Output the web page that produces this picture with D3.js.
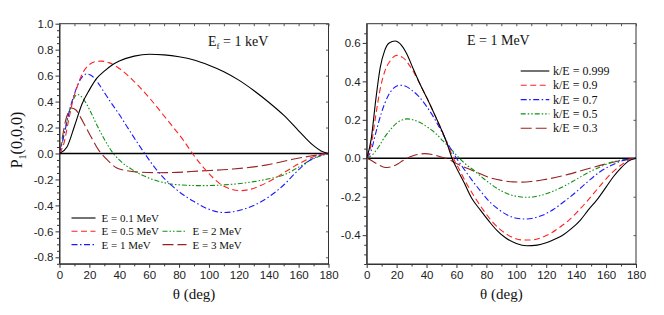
<!DOCTYPE html>
<html><head><meta charset="utf-8">
<script src="https://cdn.jsdelivr.net/npm/d3@7"></script>
<style>body{margin:0;background:#fff}svg{display:block}</style>
</head><body>
<svg id="c" width="664" height="315"></svg>
<script>
// ---------- data ----------
const xTicks = [0,20,40,60,80,100,120,140,160,180];
const yTicksLeft = [-0.8,-0.6,-0.4,-0.2,0.0,0.2,0.4,0.6,0.8,1.0];
const yTicksRight = [-0.4,-0.2,0.0,0.2,0.4,0.6];

const leftLabels = ["E = 0.1 MeV","E = 0.5 MeV","E = 1 MeV","E = 2 MeV","E = 3 MeV"];
const rightLabels = ["k/E = 0.999","k/E = 0.9","k/E = 0.7","k/E = 0.5","k/E = 0.3"];

// left panel [theta, P1]
const e01 = [[0,0],[5,0.05],[10,0.21],[15,0.38],[20,0.49],[25,0.58],[30,0.635],[35,0.68],[40,0.712],[50,0.75],[60,0.765],[70,0.76],[80,0.745],[90,0.72],[100,0.68],[110,0.63],[120,0.565],[130,0.485],[140,0.395],[150,0.295],[160,0.175],[165,0.115],[170,0.06],[175,0.02],[180,0]];
const e05 = [[0,0],[3,0.08],[6,0.25],[9,0.41],[12,0.52],[16,0.63],[20,0.685],[24,0.708],[28,0.712],[33,0.70],[40,0.655],[49,0.566],[60,0.43],[72,0.26],[83,0.10],[89,0.0],[95,-0.09],[100,-0.155],[107,-0.23],[114,-0.272],[121,-0.286],[128,-0.275],[135,-0.245],[142,-0.205],[152,-0.135],[160,-0.08],[170,-0.025],[175,-0.008],[180,0]];
const e1 = [[0,0],[3,0.14],[6,0.3],[10,0.46],[14,0.57],[18,0.612],[22,0.595],[26,0.54],[30,0.47],[34,0.4],[40,0.3],[45,0.21],[50,0.12],[57,0],[65,-0.127],[76,-0.256],[83,-0.32],[90,-0.37],[100,-0.43],[110,-0.455],[120,-0.44],[130,-0.40],[140,-0.335],[150,-0.243],[160,-0.125],[166,-0.065],[172,-0.025],[180,0]];
const e2 = [[0,0],[2,0.1],[4,0.2],[8,0.38],[12,0.455],[16,0.42],[20,0.34],[25,0.22],[30,0.11],[36,0],[40,-0.05],[49,-0.127],[60,-0.19],[72,-0.23],[85,-0.245],[95,-0.248],[105,-0.245],[116,-0.237],[130,-0.217],[140,-0.195],[150,-0.166],[160,-0.105],[170,-0.04],[180,0]];
const e3 = [[0,0],[2,0.13],[4,0.25],[6,0.32],[8,0.35],[11,0.335],[14,0.28],[18,0.195],[22,0.11],[26,0.03],[28,0],[32,-0.05],[38,-0.11],[45,-0.133],[55,-0.145],[65,-0.148],[75,-0.147],[94,-0.135],[116,-0.12],[138,-0.09],[156,-0.045],[168,-0.02],[180,0]];

// right panel [theta, P1]
const k999 = [[0,0],[3,0.1],[6,0.3],[9,0.47],[12,0.56],[15,0.6],[19,0.61],[23,0.59],[27,0.54],[31,0.467],[36,0.38],[42,0.285],[47,0.2],[51,0.13],[54,0.07],[57,0],[60,-0.05],[65,-0.125],[70,-0.205],[76,-0.27],[82,-0.33],[87,-0.375],[93,-0.415],[100,-0.443],[107,-0.455],[114,-0.452],[120,-0.44],[126,-0.42],[131,-0.40],[137,-0.365],[143,-0.32],[148,-0.27],[154,-0.215],[160,-0.15],[165,-0.095],[170,-0.05],[175,-0.015],[180,0]];
const k9 = [[0,0],[3,0.07],[6,0.22],[9,0.36],[12,0.45],[16,0.51],[20,0.535],[24,0.525],[28,0.49],[32,0.44],[36,0.38],[42,0.285],[47,0.2],[51,0.13],[55,0.055],[58,0],[62,-0.06],[67,-0.135],[72,-0.2],[78,-0.27],[84,-0.33],[90,-0.375],[97,-0.41],[104,-0.425],[110,-0.425],[116,-0.415],[122,-0.395],[128,-0.365],[134,-0.33],[140,-0.285],[146,-0.235],[152,-0.18],[158,-0.125],[164,-0.075],[170,-0.035],[175,-0.01],[180,0]];
const k7 = [[0,0],[3,0.04],[6,0.13],[10,0.24],[14,0.32],[18,0.365],[22,0.38],[26,0.375],[30,0.355],[35,0.32],[40,0.27],[45,0.21],[50,0.14],[55,0.065],[60,0],[64,-0.045],[70,-0.11],[76,-0.17],[82,-0.225],[88,-0.265],[94,-0.295],[100,-0.312],[106,-0.316],[112,-0.31],[118,-0.295],[125,-0.265],[132,-0.225],[140,-0.175],[148,-0.12],[156,-0.07],[164,-0.035],[170,-0.015],[176,-0.003],[180,0]];
const k5 = [[0,0],[4,0.02],[8,0.06],[12,0.11],[16,0.15],[20,0.183],[24,0.2],[27,0.205],[31,0.2],[36,0.185],[41,0.16],[46,0.13],[51,0.09],[56,0.05],[62,0],[66,-0.03],[72,-0.065],[78,-0.105],[84,-0.14],[90,-0.17],[96,-0.19],[102,-0.2],[106,-0.203],[112,-0.2],[118,-0.19],[125,-0.17],[132,-0.145],[140,-0.11],[148,-0.075],[156,-0.045],[164,-0.02],[172,-0.007],[180,0]];
const k3 = [[0,0],[4,-0.015],[8,-0.035],[11,-0.045],[14,-0.048],[17,-0.043],[21,-0.028],[24,-0.013],[27,0],[31,0.013],[35,0.021],[39,0.024],[43,0.021],[47,0.013],[51,0.004],[55,-0.005],[58,-0.02],[62,-0.035],[68,-0.055],[75,-0.078],[82,-0.1],[90,-0.115],[98,-0.123],[104,-0.124],[110,-0.121],[118,-0.112],[126,-0.1],[134,-0.085],[142,-0.068],[150,-0.05],[158,-0.033],[166,-0.018],[174,-0.006],[180,0]];

// ---------- styles ----------
const styles = [
  {color:"#000000", dash:null},
  {color:"#ff2020", dash:"6,3.5"},
  {color:"#1a1aff", dash:"6,2.5,1.5,2.5"},
  {color:"#109010", dash:"5,2,1.5,2,1.5,2"},
  {color:"#992222", dash:"11,4"}
];

const svg = d3.select("#c");
const serif = "'Liberation Serif', 'DejaVu Serif', serif";
const sans = "'Liberation Sans', Arial, sans-serif";

function panel(opts){
  const x = d3.scaleLinear().domain([0,180]).range([opts.x0, opts.x1]);
  const y = d3.scaleLinear().domain(opts.ydom).range([opts.y1, opts.y0]);
  const g = svg.append("g");

  g.append("rect").attr("x",opts.x0).attr("y",opts.y0)
    .attr("width",opts.x1-opts.x0).attr("height",opts.y1-opts.y0)
    .attr("fill","none").attr("stroke","#333").attr("stroke-width",1);

  const xMinor = d3.range(10,180,20);
  const yMinor = d3.range(Math.ceil(opts.ydom[0]/0.05), Math.floor(opts.ydom[1]/0.05)+1)
      .map(i=>+(i*0.05).toFixed(2)).filter(v=>!opts.yticks.some(t=>Math.abs(t-v)<1e-6));

  const ax = d3.axisBottom(x).tickValues(xTicks).tickSize(4).tickSizeOuter(0).tickFormat(d=>String(d));
  const gx = g.append("g").attr("transform",`translate(0,${opts.y1})`).call(ax);
  gx.select(".domain").attr("stroke","#333");
  gx.selectAll("line").attr("stroke","#333");
  gx.selectAll("text").attr("font-family",sans).attr("font-size",11.5).attr("fill","#222").attr("dy","0.85em").attr("y",5);
  const axm = d3.axisBottom(x).tickValues(xMinor).tickSize(2.5).tickFormat("");
  const gxm = g.append("g").attr("transform",`translate(0,${opts.y1})`).call(axm);
  gxm.select(".domain").remove(); gxm.selectAll("line").attr("stroke","#333");

  const ay = d3.axisLeft(y).tickValues(opts.yticks).tickSize(4).tickSizeOuter(0).tickFormat(d=>d.toFixed(1));
  const gy = g.append("g").attr("transform",`translate(${opts.x0},0)`).call(ay);
  gy.select(".domain").attr("stroke","#333");
  gy.selectAll("line").attr("stroke","#333");
  gy.selectAll("text").attr("font-family",sans).attr("font-size",11.5).attr("fill","#222").attr("x",-6);
  const aym = d3.axisLeft(y).tickValues(yMinor).tickSize(2.5).tickFormat("");
  const gym = g.append("g").attr("transform",`translate(${opts.x0},0)`).call(aym);
  gym.select(".domain").remove(); gym.selectAll("line").attr("stroke","#333");

  const at = d3.axisBottom(x).tickValues(xTicks.concat(xMinor)).tickSize(2.5).tickFormat("");
  const gt = g.append("g").attr("transform",`translate(0,${opts.y0})`).call(at);
  gt.select(".domain").remove(); gt.selectAll("line").attr("stroke","#555");
  const ar = d3.axisLeft(y).tickValues(opts.yticks).tickSize(2.5).tickFormat("");
  const gr = g.append("g").attr("transform",`translate(${opts.x1},0)`).call(ar);
  gr.select(".domain").remove(); gr.selectAll("line").attr("stroke","#555");

  g.append("line").attr("x1",x(0)).attr("x2",x(180)).attr("y1",y(0)).attr("y2",y(0))
    .attr("stroke","#000").attr("stroke-width",1.3);

  const line = d3.line().x(d=>x(d[0])).y(d=>y(d[1])).curve(d3.curveMonotoneX);
  const clip = "clip"+opts.id;
  svg.append("clipPath").attr("id",clip).append("rect")
    .attr("x",opts.x0).attr("y",opts.y0).attr("width",opts.x1-opts.x0).attr("height",opts.y1-opts.y0);
  opts.series.slice().reverse().forEach((s,ri)=>{
    const i = opts.series.length-1-ri;
    g.append("path").datum(s).attr("d",line).attr("fill","none")
      .attr("clip-path",`url(#${clip})`)
      .attr("stroke",styles[i].color).attr("stroke-width",1.1)
      .attr("stroke-dasharray",styles[i].dash);
  });

  g.append("text").attr("x",(opts.x0+opts.x1)/2).attr("y",299).attr("text-anchor","middle")
    .attr("font-family",serif).attr("font-size",15).attr("fill","#111").text("θ (deg)");
  return {x,y,g};
}

const L = panel({id:"L", x0:59.5, x1:328.5, y0:23.7, y1:263.8, ydom:[-0.85,1.0], yticks:yTicksLeft,
  series:[e01,e05,e1,e2,e3]});
const R = panel({id:"R", x0:366.7, x1:636, y0:23.7, y1:264, ydom:[-0.55,0.7], yticks:yTicksRight,
  series:[k999,k9,k7,k5,k3]});

const t1 = L.g.append("text").attr("x",208).attr("y",46).attr("font-family",serif).attr("font-size",14).attr("fill","#111");
t1.append("tspan").text("E");
t1.append("tspan").attr("font-size",9).attr("dy",3).text("f");
t1.append("tspan").attr("dy",-3).text(" = 1 keV");

R.g.append("text").attr("x",467).attr("y",45).attr("font-family",serif).attr("font-size",14).attr("fill","#111").text("E = 1 MeV");

const yl = svg.append("text").attr("transform","translate(22,140) rotate(-90)")
  .attr("text-anchor","middle").attr("font-family",serif).attr("font-size",16).attr("fill","#111");
yl.append("tspan").text("P");
yl.append("tspan").attr("font-size",10).attr("dy",4).text("1");
yl.append("tspan").attr("dy",-4).text("(0,0,0)");

const legL = [
  {col:0,row:0},{col:0,row:1},{col:0,row:2},{col:1,row:1},{col:1,row:2}
];
leftLabels.forEach((lab,i)=>{
  const p = legL[i];
  const lx = p.col===0 ? 71.5 : 162.5;
  const yy = 218 + p.row*13.3;
  svg.append("line").attr("x1",lx).attr("x2",lx+24).attr("y1",yy).attr("y2",yy)
    .attr("stroke",styles[i].color).attr("stroke-width",1.1).attr("stroke-dasharray",styles[i].dash);
  svg.append("text").attr("x",lx+30).attr("y",yy+4).attr("font-family",serif).attr("font-size",11)
    .attr("fill","#111").text(lab);
});

rightLabels.forEach((lab,i)=>{
  const yy = 71 + i*14.3;
  svg.append("line").attr("x1",520.7).attr("x2",549.3).attr("y1",yy).attr("y2",yy)
    .attr("stroke",styles[i].color).attr("stroke-width",1.1).attr("stroke-dasharray",styles[i].dash);
  svg.append("text").attr("x",553).attr("y",yy+4).attr("font-family",serif).attr("font-size",12)
    .attr("fill","#111").text(lab);
});
</script>
</body></html>
